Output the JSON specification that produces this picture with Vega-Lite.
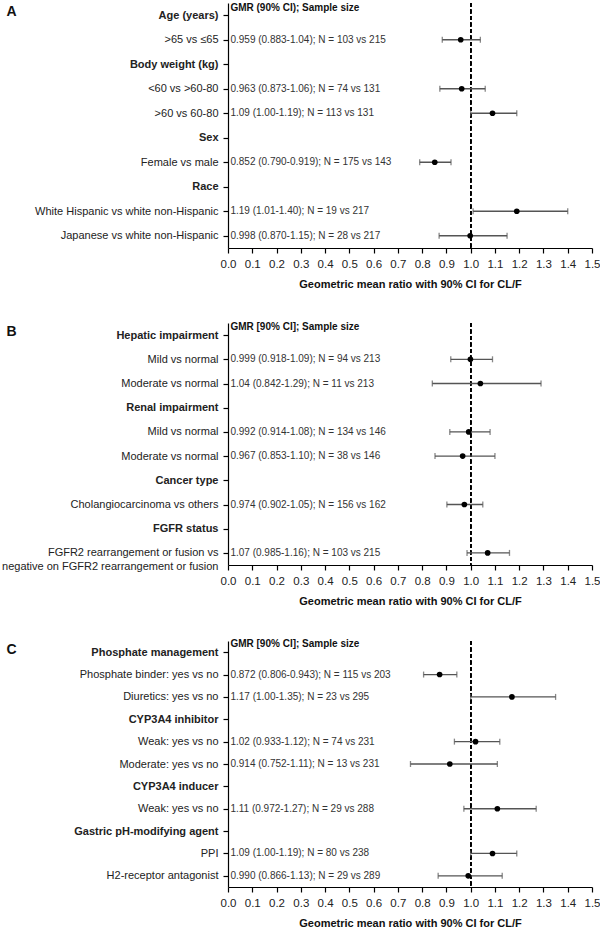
{
  "$schema": "https://vega.github.io/schema/vega-lite/v6.json",
  "padding": {"top": 2, "left": 1, "right": 8, "bottom": 2},
  "config": {
    "view": {"stroke": null},
    "font": "Liberation Sans",
    "axis": {"domainColor": "#000", "tickColor": "#000", "labelColor": "#222", "titleColor": "#111", "grid": false, "tickSize": 5, "domainWidth": 1.2, "tickWidth": 1.2},
    "axisY": {"labelFontSize": 11, "labelPadding": 5, "labelLimit": 400, "titleAngle": 0, "titleX": -222, "titleY": 8, "titleAlign": "left", "titleBaseline": "middle", "titleFontSize": 14, "titleFontWeight": "bold", "labelLineHeight": 14},
    "axisX": {"labelFontSize": 11.5, "labelPadding": 5, "labelFlush": false, "labelOverlap": false, "titleFontSize": 11, "titleFontWeight": "bold", "titlePadding": 9, "format": ".1f", "tickCount": 16},
    "text": {"font": "Liberation Sans"},
    "concat": {"spacing": 32}
  },
  "datasets": {
    "a": [
      {"row": "Age (years)", "note": "GMR (90% CI); Sample size"},
      {"row": ">65 vs ≤65", "gmr": 0.959, "lo": 0.883, "hi": 1.04, "txt": "0.959 (0.883-1.04); N = 103 vs 215"},
      {"row": "Body weight (kg)"},
      {"row": "<60 vs >60-80", "gmr": 0.963, "lo": 0.873, "hi": 1.06, "txt": "0.963 (0.873-1.06); N = 74 vs 131"},
      {"row": ">60 vs 60-80", "gmr": 1.09, "lo": 1.0, "hi": 1.19, "txt": "1.09 (1.00-1.19); N = 113 vs 131"},
      {"row": "Sex"},
      {"row": "Female vs male", "gmr": 0.852, "lo": 0.79, "hi": 0.919, "txt": "0.852 (0.790-0.919); N = 175 vs 143"},
      {"row": "Race"},
      {"row": "White Hispanic vs white non-Hispanic", "gmr": 1.19, "lo": 1.01, "hi": 1.4, "txt": "1.19 (1.01-1.40); N = 19 vs 217"},
      {"row": "Japanese vs white non-Hispanic", "gmr": 0.998, "lo": 0.87, "hi": 1.15, "txt": "0.998 (0.870-1.15); N = 28 vs 217"}
    ],
    "b": [
      {"row": "Hepatic impairment", "note": "GMR [90% CI]; Sample size"},
      {"row": "Mild vs normal ", "gmr": 0.999, "lo": 0.918, "hi": 1.09, "txt": "0.999 (0.918-1.09); N = 94 vs 213"},
      {"row": "Moderate vs normal ", "gmr": 1.04, "lo": 0.842, "hi": 1.29, "txt": "1.04 (0.842-1.29); N = 11 vs 213"},
      {"row": "Renal impairment"},
      {"row": "Mild vs normal", "gmr": 0.992, "lo": 0.914, "hi": 1.08, "txt": "0.992 (0.914-1.08); N = 134 vs 146"},
      {"row": "Moderate vs normal", "gmr": 0.967, "lo": 0.853, "hi": 1.1, "txt": "0.967 (0.853-1.10); N = 38 vs 146"},
      {"row": "Cancer type"},
      {"row": "Cholangiocarcinoma vs others", "gmr": 0.974, "lo": 0.902, "hi": 1.05, "txt": "0.974 (0.902-1.05); N = 156 vs 162"},
      {"row": "FGFR status"},
      {"row": "FGFR2 rearrangement or fusion vs negative on FGFR2 rearrangement or fusion", "gmr": 1.07, "lo": 0.985, "hi": 1.16, "txt": "1.07 (0.985-1.16); N = 103 vs 215"}
    ],
    "c": [
      {"row": "Phosphate management", "note": "GMR [90% CI]; Sample size"},
      {"row": "Phosphate binder: yes vs no", "gmr": 0.872, "lo": 0.806, "hi": 0.943, "txt": "0.872 (0.806-0.943); N = 115 vs 203"},
      {"row": "Diuretics: yes vs no", "gmr": 1.17, "lo": 1.0, "hi": 1.35, "txt": "1.17 (1.00-1.35); N = 23 vs 295"},
      {"row": "CYP3A4 inhibitor"},
      {"row": "Weak: yes vs no", "gmr": 1.02, "lo": 0.933, "hi": 1.12, "txt": "1.02 (0.933-1.12); N = 74 vs 231"},
      {"row": "Moderate: yes vs no", "gmr": 0.914, "lo": 0.752, "hi": 1.11, "txt": "0.914 (0.752-1.11); N = 13 vs 231"},
      {"row": "CYP3A4 inducer"},
      {"row": "Weak: yes vs no ", "gmr": 1.11, "lo": 0.972, "hi": 1.27, "txt": "1.11 (0.972-1.27); N = 29 vs 288"},
      {"row": "Gastric pH-modifying agent"},
      {"row": "PPI", "gmr": 1.09, "lo": 1.0, "hi": 1.19, "txt": "1.09 (1.00-1.19); N = 80 vs 238"},
      {"row": "H2-receptor antagonist", "gmr": 0.99, "lo": 0.866, "hi": 1.13, "txt": "0.990 (0.866-1.13); N = 29 vs 289"}
    ]
  },
  "vconcat": [
    {
      "width": 364, "height": 245,
      "data": {"name": "a"},
      "encoding": {
        "x": {"type": "quantitative", "scale": {"domain": [0, 1.5], "nice": false},
          "axis": {"values": [0, 0.1, 0.2, 0.3, 0.4, 0.5, 0.6, 0.7, 0.8, 0.9, 1.0, 1.1, 1.2, 1.3, 1.4, 1.5], "title": "Geometric mean ratio with 90% CI for CL/F"}},
        "y": {"field": "row", "type": "nominal",
          "scale": {"type": "point", "padding": 0.5, "domain": ["Age (years)", ">65 vs ≤65", "Body weight (kg)", "<60 vs >60-80", ">60 vs 60-80", "Sex", "Female vs male", "Race", "White Hispanic vs white non-Hispanic", "Japanese vs white non-Hispanic"]},
          "axis": {"title": "A",
            "labelFontWeight": {"condition": {"test": "indexof(['Age (years)','Body weight (kg)','Sex','Race'], datum.value) >= 0", "value": "bold"}, "value": "normal"}}}
      },
      "layer": [
        {"mark": {"type": "rule", "color": "#000", "strokeDash": [4, 2.5], "strokeWidth": 1.3}, "encoding": {"x": {"datum": 1, "type": "quantitative"}, "y": null}},
        {"transform": [{"filter": "isValid(datum.gmr)"}], "mark": {"type": "errorbar", "color": "#555", "thickness": 1.3, "ticks": {"size": 6, "color": "#555"}},
          "encoding": {"x": {"field": "lo", "type": "quantitative"}, "x2": {"field": "hi"}}},
        {"transform": [{"filter": "isValid(datum.gmr)"}], "mark": {"type": "point", "filled": true, "color": "#000", "size": 32, "opacity": 1},
          "encoding": {"x": {"field": "gmr", "type": "quantitative"}}},
        {"transform": [{"filter": "isValid(datum.txt)"}], "mark": {"type": "text", "align": "left", "baseline": "middle", "fontSize": 10, "color": "#333"},
          "encoding": {"x": {"datum": 0.01, "type": "quantitative"}, "text": {"field": "txt"}}},
        {"transform": [{"filter": "isValid(datum.note)"}], "mark": {"type": "text", "align": "left", "baseline": "middle", "fontSize": 10, "fontWeight": "bold", "color": "#111", "dy": -7},
          "encoding": {"x": {"datum": 0.01, "type": "quantitative"}, "text": {"field": "note"}}}
      ]
    },
    {
      "width": 364, "height": 242,
      "data": {"name": "b"},
      "encoding": {
        "x": {"type": "quantitative", "scale": {"domain": [0, 1.5], "nice": false},
          "axis": {"values": [0, 0.1, 0.2, 0.3, 0.4, 0.5, 0.6, 0.7, 0.8, 0.9, 1.0, 1.1, 1.2, 1.3, 1.4, 1.5], "title": "Geometric mean ratio with 90% CI for CL/F"}},
        "y": {"field": "row", "type": "nominal",
          "scale": {"type": "point", "padding": 0.5, "domain": ["Hepatic impairment", "Mild vs normal ", "Moderate vs normal ", "Renal impairment", "Mild vs normal", "Moderate vs normal", "Cancer type", "Cholangiocarcinoma vs others", "FGFR status", "FGFR2 rearrangement or fusion vs negative on FGFR2 rearrangement or fusion"]},
          "axis": {"title": "B",
            "labelExpr": "datum.value === 'FGFR2 rearrangement or fusion vs negative on FGFR2 rearrangement or fusion' ? ['FGFR2 rearrangement or fusion vs', 'negative on FGFR2 rearrangement or fusion'] : datum.label",
            "labelFontWeight": {"condition": {"test": "indexof(['Hepatic impairment','Renal impairment','Cancer type','FGFR status'], datum.value) >= 0", "value": "bold"}, "value": "normal"}}}
      },
      "layer": [
        {"mark": {"type": "rule", "color": "#000", "strokeDash": [4, 2.5], "strokeWidth": 1.3}, "encoding": {"x": {"datum": 1, "type": "quantitative"}, "y": null}},
        {"transform": [{"filter": "isValid(datum.gmr)"}], "mark": {"type": "errorbar", "color": "#555", "thickness": 1.3, "ticks": {"size": 6, "color": "#555"}},
          "encoding": {"x": {"field": "lo", "type": "quantitative"}, "x2": {"field": "hi"}}},
        {"transform": [{"filter": "isValid(datum.gmr)"}], "mark": {"type": "point", "filled": true, "color": "#000", "size": 32, "opacity": 1},
          "encoding": {"x": {"field": "gmr", "type": "quantitative"}}},
        {"transform": [{"filter": "isValid(datum.txt)"}], "mark": {"type": "text", "align": "left", "baseline": "middle", "fontSize": 10, "color": "#333"},
          "encoding": {"x": {"datum": 0.01, "type": "quantitative"}, "text": {"field": "txt"}}},
        {"transform": [{"filter": "isValid(datum.note)"}], "mark": {"type": "text", "align": "left", "baseline": "middle", "fontSize": 10, "fontWeight": "bold", "color": "#111", "dy": -8},
          "encoding": {"x": {"datum": 0.01, "type": "quantitative"}, "text": {"field": "note"}}}
      ]
    },
    {
      "width": 364, "height": 246,
      "data": {"name": "c"},
      "encoding": {
        "x": {"type": "quantitative", "scale": {"domain": [0, 1.5], "nice": false},
          "axis": {"values": [0, 0.1, 0.2, 0.3, 0.4, 0.5, 0.6, 0.7, 0.8, 0.9, 1.0, 1.1, 1.2, 1.3, 1.4, 1.5], "title": "Geometric mean ratio with 90% CI for CL/F"}},
        "y": {"field": "row", "type": "nominal",
          "scale": {"type": "point", "padding": 0.5, "domain": ["Phosphate management", "Phosphate binder: yes vs no", "Diuretics: yes vs no", "CYP3A4 inhibitor", "Weak: yes vs no", "Moderate: yes vs no", "CYP3A4 inducer", "Weak: yes vs no ", "Gastric pH-modifying agent", "PPI", "H2-receptor antagonist"]},
          "axis": {"title": "C",
            "labelFontWeight": {"condition": {"test": "indexof(['Phosphate management','CYP3A4 inhibitor','CYP3A4 inducer','Gastric pH-modifying agent'], datum.value) >= 0", "value": "bold"}, "value": "normal"}}}
      },
      "layer": [
        {"mark": {"type": "rule", "color": "#000", "strokeDash": [4, 2.5], "strokeWidth": 1.3}, "encoding": {"x": {"datum": 1, "type": "quantitative"}, "y": null}},
        {"transform": [{"filter": "isValid(datum.gmr)"}], "mark": {"type": "errorbar", "color": "#555", "thickness": 1.3, "ticks": {"size": 6, "color": "#555"}},
          "encoding": {"x": {"field": "lo", "type": "quantitative"}, "x2": {"field": "hi"}}},
        {"transform": [{"filter": "isValid(datum.gmr)"}], "mark": {"type": "point", "filled": true, "color": "#000", "size": 32, "opacity": 1},
          "encoding": {"x": {"field": "gmr", "type": "quantitative"}}},
        {"transform": [{"filter": "isValid(datum.txt)"}], "mark": {"type": "text", "align": "left", "baseline": "middle", "fontSize": 10, "color": "#333"},
          "encoding": {"x": {"datum": 0.01, "type": "quantitative"}, "text": {"field": "txt"}}},
        {"transform": [{"filter": "isValid(datum.note)"}], "mark": {"type": "text", "align": "left", "baseline": "middle", "fontSize": 10, "fontWeight": "bold", "color": "#111", "dy": -8},
          "encoding": {"x": {"datum": 0.01, "type": "quantitative"}, "text": {"field": "note"}}}
      ]
    }
  ]
}
